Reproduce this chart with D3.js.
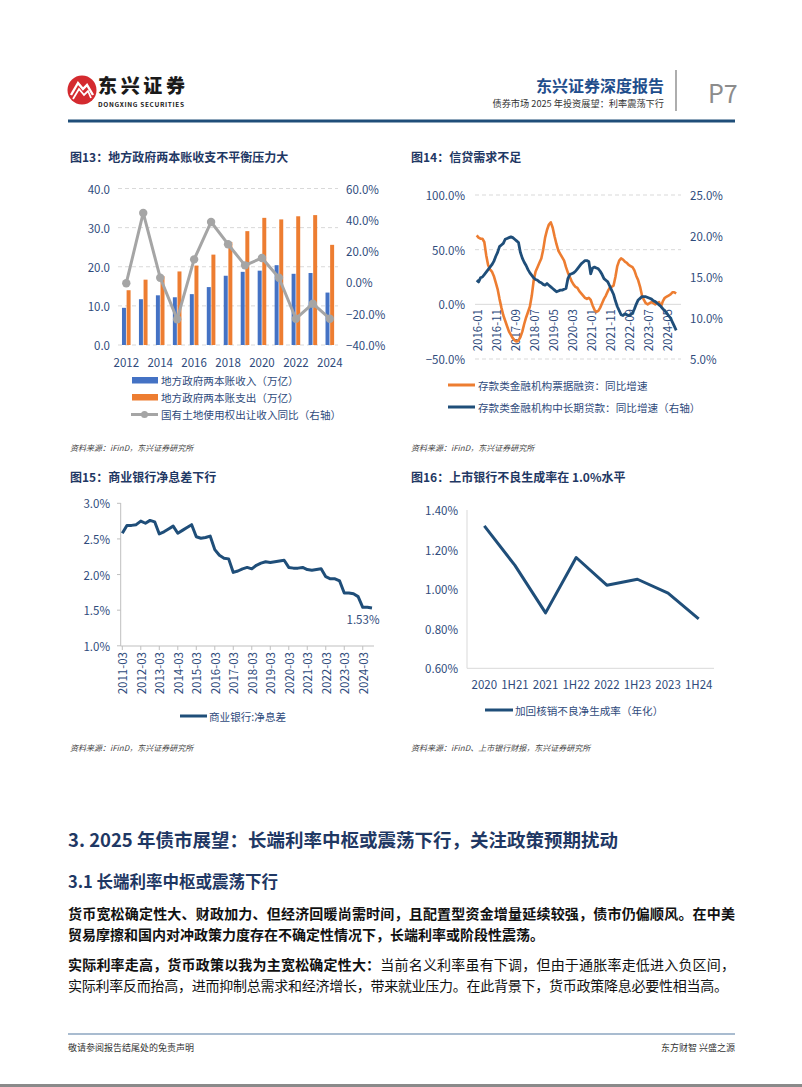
<!DOCTYPE html>
<html><head><meta charset="utf-8">
<script src="https://cdn.jsdelivr.net/npm/d3@7"></script>
<style>
body{margin:0;background:#fff}
svg{display:block}
text{font-family:"Noto Sans CJK SC","Noto Sans",sans-serif}
</style>
</head><body>
<svg id="page" width="802" height="1087"></svg>
<script>
// ---------------- DATA ----------------
// Chart 13
const c13Years = [2012,2013,2014,2015,2016,2017,2018,2019,2020,2021,2022,2023,2024];
const c13Revenue = [9.5,11.7,12.7,12.2,13.0,14.8,17.7,18.7,19.0,20.4,18.2,18.4,13.4];
const c13Expense = [14.0,16.7,17.6,18.8,20.3,23.1,26.3,29.1,32.5,32.1,32.9,33.2,25.6];
const c13LandYoY = [-0.5,44.4,3.0,-23.5,14.7,38.6,24.4,10.9,15.6,3.0,-23.2,-13.6,-23.2];
const c13LeftTicks = [0,10,20,30,40];
const c13RightTicks = [-40,-20,0,20,40,60];
const c13XTicks = [2012,2014,2016,2018,2020,2022,2024];
const c13Legend = ["地方政府两本账收入（万亿）","地方政府两本账支出（万亿）","国有土地使用权出让收入同比（右轴）"];

// Chart 14 (monthly, 2016-01 .. 2024-10)
const c14Start = "2016-01", c14End = "2024-10";
const c14Bill = [63,61,60,60,57,45,36,32,30,26,20,14,5,-3,-10,-15,-20,-25,-28,-31,-33,-34,-33,-30,-25,-18,-12,-7,-2,8,
  22,30,34,38,42,50,61,68,73,75,70,62,55,49,46,43,40,34,29,25,21,18,16,15,12,10,8,6,5,6,
  4,-1,-5,-7,-6,-3,1,5,8,12,15,16,17,25,35,40,42,41,39,38,36,35,34,31,26,22,16,8,4,1,
  0,1,2,1,0,1,2,-2,3,6,7,8,9,11,11,10];
const c14Loan = [14.6,14.4,14.9,15.0,15.3,15.6,15.9,16.2,16.5,16.9,17.5,18.0,18.7,18.9,19.1,19.6,19.7,19.8,19.9,19.8,
  19.6,19.4,19.2,18.0,17.3,16.8,16.4,15.9,15.5,15.2,14.9,14.7,14.6,14.4,14.3,14.1,14.0,14.2,14.0,13.8,
  13.6,13.4,13.2,13.3,13.4,13.4,13.5,13.6,14.8,15.3,15.4,15.5,15.7,16.0,16.3,16.6,16.8,17.0,17.0,16.9,
  15.4,16.1,16.2,16.1,16.0,15.7,15.3,14.8,14.6,14.4,13.9,13.4,12.9,12.1,11.4,10.9,10.4,10.3,10.5,10.4,
  10.3,10.4,10.6,11.1,11.7,12.2,12.4,12.6,12.6,12.6,12.5,12.4,12.3,12.1,12.0,11.8,11.6,11.4,11.1,10.9,
  10.6,10.3,10.0,9.5,9.0,8.5];
const c14LeftTicks = [-50,0,50,100];
const c14RightTicks = [5,10,15,20,25];
const c14XTicks = ["2016-01","2016-11","2017-09","2018-07","2019-05","2020-03","2021-01","2021-11","2022-09","2023-07","2024-05"];
const c14Legend = ["存款类金融机构票据融资：同比增速","存款类金融机构中长期贷款：同比增速（右轴）"];

// Chart 15 (quarterly, 2011-03 .. 2024-09)
const c15NIM = [2.58,2.69,2.69,2.70, 2.75,2.72,2.76,2.74, 2.57,2.60,2.64,2.68, 2.58,2.62,2.66,2.70,
  2.53,2.51,2.52,2.54, 2.35,2.27,2.23,2.22, 2.03,2.05,2.08,2.10, 2.08,2.13,2.16,2.18,
  2.17,2.18,2.19,2.20, 2.10,2.09,2.09,2.10, 2.07,2.06,2.07,2.08, 1.97,1.94,1.94,1.91,
  1.74,1.74,1.73,1.69, 1.54,1.54,1.53];
const c15XTicks = ["2011-03","2012-03","2013-03","2014-03","2015-03","2016-03","2017-03","2018-03","2019-03","2020-03","2021-03","2022-03","2023-03","2024-03"];
const c15YTicks = [1.0,1.5,2.0,2.5,3.0];
const c15Legend = "商业银行:净息差";

// Chart 16
const c16Periods = ["2020","1H21","2021","1H22","2022","1H23","2023","1H24"];
const c16Rate = [1.32,1.12,0.88,1.16,1.02,1.05,0.98,0.85];
const c16YTicks = [0.6,0.8,1.0,1.2,1.4];
const c16Legend = "加回核销不良净生成率（年化）";

// ---------------- DRAW ----------------
const svg = d3.select('#page');
svg.append('rect').attr('width',802).attr('height',1087).attr('fill','#fff');
const AX = '#2F4B7C', NAVY = '#1F3864', LINE = '#1F4E79';
const BLUE = '#4472C4', ORANGE = '#ED7D31', GRAY = '#A5A5A5', GRID = '#D9D9D9';

function txt(g, x, y, s, o = {}) {
  const t = g.append('text').attr('x', x).attr('y', y).text(s)
    .attr('font-size', o.size || 11).attr('fill', o.fill || AX)
    .attr('text-anchor', o.anchor || 'start')
    .attr('dominant-baseline', o.base || 'central');
  if (o.weight) t.attr('font-weight', o.weight);
  if (o.italic) t.attr('font-style', 'italic');
  if (o.family) t.attr('font-family', o.family);
  return t;
}

// ---- Header ----
const logo = svg.append('g').attr('transform', 'translate(82,90)');
logo.append('circle').attr('r', 14.5).attr('fill', '#D42A2F');
logo.append('path').attr('d', 'M-11,5 L-4,-7 L1,-1 L5,-5 L11,5').attr('fill', 'none').attr('stroke', '#fff').attr('stroke-width', 2.4);
logo.append('path').attr('d', 'M-9,9 L-3,-1 L2,5 L6,1 L9,8').attr('fill', 'none').attr('stroke', '#fff').attr('stroke-width', 1.8);
txt(svg, 98, 84.5, '东兴证券', {size: 19, weight: 900, fill: '#1a1a1a'}).attr('textLength', 87).attr('lengthAdjust', 'spacing');
txt(svg, 98, 103.5, 'DONGXING SECURITIES', {size: 6.5, weight: 700, fill: '#1a1a1a', family: 'Arial, "Liberation Sans", sans-serif'})
  .attr('textLength', 86).attr('lengthAdjust', 'spacing');
txt(svg, 664, 85, '东兴证券深度报告', {size: 16, weight: 700, fill: '#1F4E8C', anchor: 'end'});
txt(svg, 664, 103, '债券市场 2025 年投资展望：利率震荡下行', {size: 9.2, fill: '#333', anchor: 'end'});
svg.append('line').attr('x1', 676).attr('x2', 676).attr('y1', 70).attr('y2', 111).attr('stroke', '#777').attr('stroke-width', 1.2);
txt(svg, 708, 92, 'P7', {size: 25, fill: '#8c8c8c', family: '"Liberation Sans", Arial, sans-serif'});
svg.append('rect').attr('x', 68).attr('y', 119.5).attr('width', 667).attr('height', 3).attr('fill', '#1F4E79');

// ---- Chart titles ----
txt(svg, 70, 156.5, '图13：地方政府两本账收支不平衡压力大', {size: 12, weight: 700, fill: NAVY});
txt(svg, 411, 156.5, '图14：信贷需求不足', {size: 12, weight: 700, fill: NAVY});
txt(svg, 70, 476.5, '图15：商业银行净息差下行', {size: 12, weight: 700, fill: NAVY});
txt(svg, 411, 476.5, '图16：上市银行不良生成率在 1.0%水平', {size: 12, weight: 700, fill: NAVY});

// ---- Chart 13 ----
{
  const g = svg.append('g');
  const yL = d3.scaleLinear().domain([0, 40]).range([345, 188.5]);
  const yR = d3.scaleLinear().domain([-40, 60]).range([345, 188.5]);
  const x = d3.scaleBand().domain(c13Years).range([117.8, 338.3]);
  const sub = d3.scaleBand().domain(['rev', 'exp']).range([-4.3, 4.3]).paddingInner(0.14);
  c13LeftTicks.forEach(t => {
    g.append('line').attr('x1', 118).attr('x2', 338).attr('y1', yL(t)).attr('y2', yL(t))
      .attr('stroke', GRID).attr('stroke-dasharray', '4,3');
    txt(g, 110, yL(t), d3.format('.1f')(t), {size: 11.5, anchor: 'end'});
  });
  c13RightTicks.forEach(t => txt(g, 346, yR(t), d3.format('.1f')(t) + '%', {size: 11.5}));
  c13XTicks.forEach(t => txt(g, x(t) + x.bandwidth() / 2, 362, String(t), {size: 11.5, anchor: 'middle'}));
  const cx = d => x(d) + x.bandwidth() / 2;
  g.selectAll('.rev').data(c13Years).join('rect')
    .attr('x', (d) => cx(d) + sub('rev')).attr('width', sub.bandwidth())
    .attr('y', (d, i) => yL(c13Revenue[i])).attr('height', (d, i) => yL(0) - yL(c13Revenue[i])).attr('fill', BLUE);
  g.selectAll('.exp').data(c13Years).join('rect')
    .attr('x', (d) => cx(d) + sub('exp')).attr('width', sub.bandwidth())
    .attr('y', (d, i) => yL(c13Expense[i])).attr('height', (d, i) => yL(0) - yL(c13Expense[i])).attr('fill', ORANGE);
  const line = d3.line().x((d, i) => cx(c13Years[i])).y(d => yR(d));
  g.append('path').attr('d', line(c13LandYoY)).attr('fill', 'none').attr('stroke', GRAY).attr('stroke-width', 3).attr('stroke-linejoin', 'round');
  g.selectAll('.pt').data(c13LandYoY).join('circle').attr('cx', (d, i) => cx(c13Years[i])).attr('cy', d => yR(d)).attr('r', 4.2).attr('fill', GRAY);
  // legend
  g.append('rect').attr('x', 132).attr('y', 377).attr('width', 26).attr('height', 6.5).attr('fill', BLUE);
  txt(g, 161, 380, c13Legend[0], {size: 10.6});
  g.append('rect').attr('x', 132).attr('y', 394).attr('width', 26).attr('height', 6.5).attr('fill', ORANGE);
  txt(g, 161, 397, c13Legend[1], {size: 10.6});
  g.append('line').attr('x1', 131).attr('x2', 158).attr('y1', 414.5).attr('y2', 414.5).attr('stroke', GRAY).attr('stroke-width', 3);
  g.append('circle').attr('cx', 144.5).attr('cy', 414.5).attr('r', 3.5).attr('fill', GRAY);
  txt(g, 161, 414.5, c13Legend[2], {size: 10.6});
  txt(g, 70, 447, '资料来源：iFinD，东兴证券研究所', {size: 8, italic: true, fill: '#444'});
}

// ---- Chart 14 ----
{
  const g = svg.append('g');
  const parse = d3.timeParse('%Y-%m');
  const months = d3.timeMonth.range(parse(c14Start), d3.timeMonth.offset(parse(c14End), 1));
  const x = d3.scaleLinear().domain([0, months.length - 1]).range([476.7, 676.2]);
  const idx = s => d3.timeMonth.count(parse(c14Start), parse(s));
  const yL = d3.scaleLinear().domain([-50, 100]).range([359, 195]);
  const yR = d3.scaleLinear().domain([5, 25]).range([359, 195]);
  c14LeftTicks.forEach(t => {
    const ln = g.append('line').attr('x1', 475).attr('x2', 681).attr('y1', yL(t)).attr('y2', yL(t)).attr('stroke', GRID);
    if (t !== 0) ln.attr('stroke-dasharray', '4,3');
    txt(g, 465, yL(t), d3.format('.1f')(t) + '%', {size: 11.5, anchor: 'end'});
  });
  c14RightTicks.forEach(t => txt(g, 690, yR(t), d3.format('.1f')(t) + '%', {size: 11.5}));
  c14XTicks.forEach(s => {
    g.append('text').attr('transform', `translate(${x(idx(s))},309) rotate(-90)`)
      .attr('text-anchor', 'end').attr('dominant-baseline', 'central')
      .attr('font-size', 11.5).attr('fill', AX).text(s);
  });
  const lineL = d3.line().x((d, i) => x(i)).y(d => yL(d));
  const lineR = d3.line().x((d, i) => x(i)).y(d => yR(d));
  g.append('path').attr('d', lineL(c14Bill)).attr('fill', 'none').attr('stroke', ORANGE).attr('stroke-width', 2.6).attr('stroke-linejoin', 'round');
  g.append('path').attr('d', lineR(c14Loan)).attr('fill', 'none').attr('stroke', LINE).attr('stroke-width', 2.8).attr('stroke-linejoin', 'round');
  g.append('line').attr('x1', 448).attr('x2', 475).attr('y1', 385).attr('y2', 385).attr('stroke', ORANGE).attr('stroke-width', 3);
  txt(g, 478, 385, c14Legend[0], {size: 10.6});
  g.append('line').attr('x1', 448).attr('x2', 475).attr('y1', 407).attr('y2', 407).attr('stroke', LINE).attr('stroke-width', 3);
  txt(g, 478, 407, c14Legend[1], {size: 10.6});
  txt(g, 411, 447, '资料来源：iFinD，东兴证券研究所', {size: 8, italic: true, fill: '#444'});
}

// ---- Chart 15 ----
{
  const g = svg.append('g');
  const quarters = c15NIM.map((d, i) => `${2011 + Math.floor(i / 4)}-${String(3 * (i % 4) + 3).padStart(2, '0')}`);
  const x = d3.scalePoint().domain(quarters).range([122.3, 372]);
  const y = d3.scaleLinear().domain([1.0, 3.0]).range([645.8, 503.3]);
  g.append('line').attr('x1', 120.7).attr('x2', 120.7).attr('y1', 503).attr('y2', 646).attr('stroke', '#BFBFBF');
  g.append('line').attr('x1', 120.7).attr('x2', 374).attr('y1', 646).attr('y2', 646).attr('stroke', '#BFBFBF');
  c15YTicks.forEach(t => {
    g.append('line').attr('x1', 117).attr('x2', 120.7).attr('y1', y(t)).attr('y2', y(t)).attr('stroke', '#BFBFBF');
    txt(g, 110, y(t), d3.format('.1f')(t) + '%', {size: 11.5, anchor: 'end'});
  });
  c15XTicks.forEach(s => {
    g.append('line').attr('x1', x(s)).attr('x2', x(s)).attr('y1', 646).attr('y2', 650).attr('stroke', '#BFBFBF');
    g.append('text').attr('transform', `translate(${x(s)},652) rotate(-90)`)
      .attr('text-anchor', 'end').attr('dominant-baseline', 'central')
      .attr('font-size', 11.5).attr('fill', AX).text(s);
  });
  const line = d3.line().x((d, i) => x(quarters[i])).y(d => y(d));
  g.append('path').attr('d', line(c15NIM)).attr('fill', 'none').attr('stroke', LINE).attr('stroke-width', 3).attr('stroke-linejoin', 'round');
  const last = c15NIM.length - 1;
  txt(g, x(quarters[last]) - 9, y(c15NIM[last]) + 11, d3.format('.2f')(c15NIM[last]) + '%', {size: 11.5, anchor: 'middle'});
  g.append('line').attr('x1', 180).attr('x2', 207).attr('y1', 716).attr('y2', 716).attr('stroke', LINE).attr('stroke-width', 3);
  txt(g, 209, 716, c15Legend, {size: 10.6});
  txt(g, 70, 747, '资料来源：iFinD，东兴证券研究所', {size: 8, italic: true, fill: '#444'});
}

// ---- Chart 16 ----
{
  const g = svg.append('g');
  const x = d3.scaleBand().domain(c16Periods).range([469, 714]);
  const y = d3.scaleLinear().domain([0.6, 1.4]).range([668.3, 510]);
  g.append('line').attr('x1', 467).attr('x2', 467).attr('y1', 510).attr('y2', 668.3).attr('stroke', GRID);
  g.append('line').attr('x1', 467).attr('x2', 714).attr('y1', 668.3).attr('y2', 668.3).attr('stroke', GRID);
  c16YTicks.forEach(t => txt(g, 458, y(t), d3.format('.2f')(t) + '%', {size: 11.5, anchor: 'end'}));
  c16Periods.forEach(p => txt(g, x(p) + x.bandwidth() / 2, 683.5, p, {size: 11.5, anchor: 'middle'}));
  const line = d3.line().x((d, i) => x(c16Periods[i]) + x.bandwidth() / 2).y(d => y(d));
  g.append('path').attr('d', line(c16Rate)).attr('fill', 'none').attr('stroke', LINE).attr('stroke-width', 3).attr('stroke-linejoin', 'round');
  g.append('line').attr('x1', 485).attr('x2', 513).attr('y1', 710).attr('y2', 710).attr('stroke', LINE).attr('stroke-width', 3);
  txt(g, 515, 710, c16Legend, {size: 10.6});
  txt(g, 411, 747, '资料来源：iFinD、上市银行财报，东兴证券研究所', {size: 8, italic: true, fill: '#444'});
}

// ---- Body text ----
txt(svg, 68, 839, '3. 2025 年债市展望：长端利率中枢或震荡下行，关注政策预期扰动', {size: 18.5, weight: 700, fill: NAVY});
txt(svg, 68, 881, '3.1 长端利率中枢或震荡下行', {size: 16.5, weight: 700, fill: NAVY});
function para(y, parts, width) {
  const t = svg.append('text').attr('x', 68).attr('y', y).attr('font-size', 14).attr('fill', '#111').attr('dominant-baseline', 'central');
  parts.forEach(p => t.append('tspan').attr('font-weight', p[1] ? 700 : 400).text(p[0]));
  if (width) t.attr('textLength', width).attr('lengthAdjust', 'spacing');
}
para(913, [['货币宽松确定性大、财政加力、但经济回暖尚需时间，且配置型资金增量延续较强，债市仍偏顺风。在中美', true]], 667);
para(934, [['贸易摩擦和国内对冲政策力度存在不确定性情况下，长端利率或阶段性震荡。', true]]);
para(964, [['实际利率走高，货币政策以我为主宽松确定性大：', true], ['当前名义利率虽有下调，但由于通胀率走低进入负区间，', false]], 667);
para(985, [['实际利率反而抬高，进而抑制总需求和经济增长，带来就业压力。在此背景下，货币政策降息必要性相当高。', false]], 660);

// ---- Footer ----
svg.append('line').attr('x1', 68).attr('x2', 735).attr('y1', 1034).attr('y2', 1034).attr('stroke', '#A9BCD0').attr('stroke-width', 2);
txt(svg, 68, 1047, '敬请参阅报告结尾处的免责声明', {size: 9, fill: '#333'});
txt(svg, 735, 1047, '东方财智 兴盛之源', {size: 9, fill: '#333', anchor: 'end'});
svg.append('rect').attr('x', 0).attr('y', 1084).attr('width', 802).attr('height', 3).attr('fill', '#8a8a8a');
</script>
</body></html>
